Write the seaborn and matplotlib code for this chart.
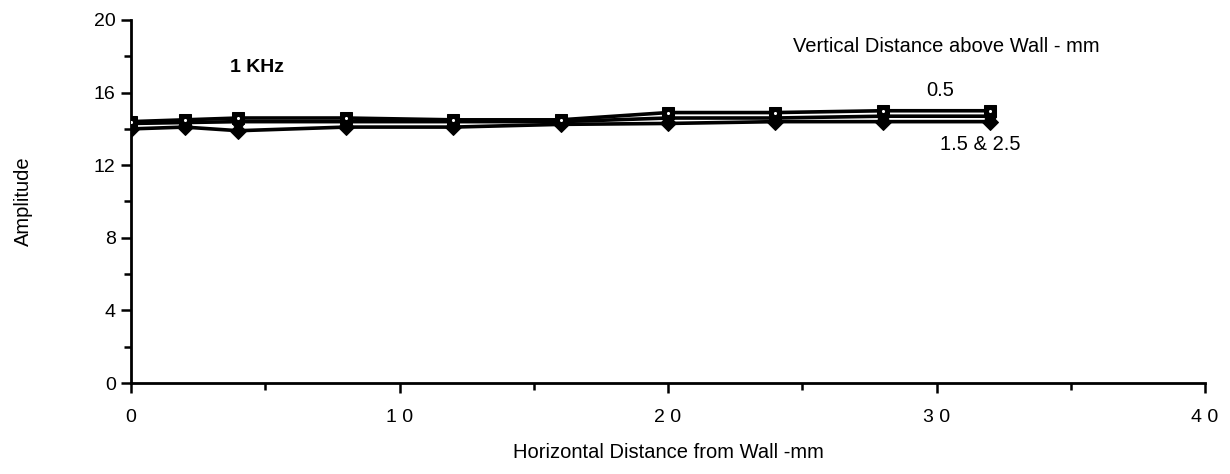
import numpy as np
import pandas as pd
import matplotlib
matplotlib.use("Agg")
import matplotlib.pyplot as plt
import seaborn as sns
from matplotlib.ticker import MultipleLocator, FixedLocator

# ---- data ----
distance_mm = [0, 2, 4, 8, 12, 16, 20, 24, 28, 32]
amp_05 = [14.4, 14.5, 14.6, 14.6, 14.5, 14.5, 14.9, 14.9, 15.0, 15.0]
amp_15 = [14.3, 14.35, 14.4, 14.4, 14.4, 14.4, 14.6, 14.6, 14.7, 14.7]
amp_25 = [14.0, 14.1, 13.9, 14.1, 14.1, 14.25, 14.3, 14.4, 14.4, 14.4]
series_names = ["0.5", "1.5", "2.5"]
x_tick_values = [0, 10, 20, 30, 40]
x_tick_labels = ["0", "1 0", "2 0", "3 0", "4 0"]
y_tick_values = [0, 4, 8, 12, 16, 20]

df = pd.DataFrame({
    "x": distance_mm * 3,
    "y": amp_05 + amp_15 + amp_25,
    "s": [series_names[0]] * len(distance_mm) + [series_names[1]] * len(distance_mm)
         + [series_names[2]] * len(distance_mm),
})

sns.set_theme(style="ticks")
plt.rcParams["font.family"] = ["Liberation Sans", "DejaVu Sans"]

fig = plt.figure(figsize=(12.30, 4.74), dpi=100)
ax = fig.add_axes([131 / 1230, 1 - 383 / 474, (1205 - 131) / 1230, (383 - 20) / 474])

sns.lineplot(data=df, x="x", y="y", hue="s", style="s",
             palette={n: "black" for n in series_names},
             markers={"0.5": "s", "1.5": "o", "2.5": "D"},
             dashes=False, linewidth=2.6, markersize=8,
             markeredgecolor="black", legend=False, ax=ax)
# white centre dots on the square markers
sns.scatterplot(x=distance_mm, y=amp_05, color="white", s=5, linewidth=0,
                ax=ax, legend=False, zorder=5)

ax.set_xlim(0, 40)
ax.set_ylim(0, 20)
ax.xaxis.set_major_locator(FixedLocator(x_tick_values))
ax.set_xticklabels(x_tick_labels)
ax.xaxis.set_minor_locator(MultipleLocator(5))
ax.yaxis.set_major_locator(FixedLocator(y_tick_values))
ax.yaxis.set_minor_locator(MultipleLocator(2))

for side in ["top", "right"]:
    ax.spines[side].set_visible(False)
for side in ["left", "bottom"]:
    ax.spines[side].set_linewidth(2.0)
    ax.spines[side].set_color("black")

ax.tick_params(axis="both", which="both", direction="out", colors="black",
               width=1.8, labelsize=14, bottom=True, left=True)
ax.tick_params(axis="both", which="major", length=7)
ax.tick_params(axis="both", which="minor", length=5)
ax.tick_params(axis="x", pad=12)
ax.tick_params(axis="y", pad=4)

ax.set_xlabel("Horizontal Distance from Wall -mm", fontsize=14.5, color="black", labelpad=12)
ax.set_ylabel("Amplitude", fontsize=14.5, color="black", labelpad=44)
ax.grid(False)

ax.text(3.7, 17.4, "1 KHz", fontsize=14, fontweight="bold", color="black",
        ha="left", va="center")
fig.text(1100 / 1230, 1 - 47 / 474, "Vertical Distance above Wall - mm",
         fontsize=14.5, color="black", ha="right", va="center")
fig.text(940 / 1230, 1 - 90 / 474, "0.5", fontsize=14.5, color="black",
         ha="center", va="center")
fig.text(980 / 1230, 1 - 145 / 474, "1.5 & 2.5", fontsize=14.5, color="black",
         ha="center", va="center")

fig.savefig("out.png", dpi=100)
